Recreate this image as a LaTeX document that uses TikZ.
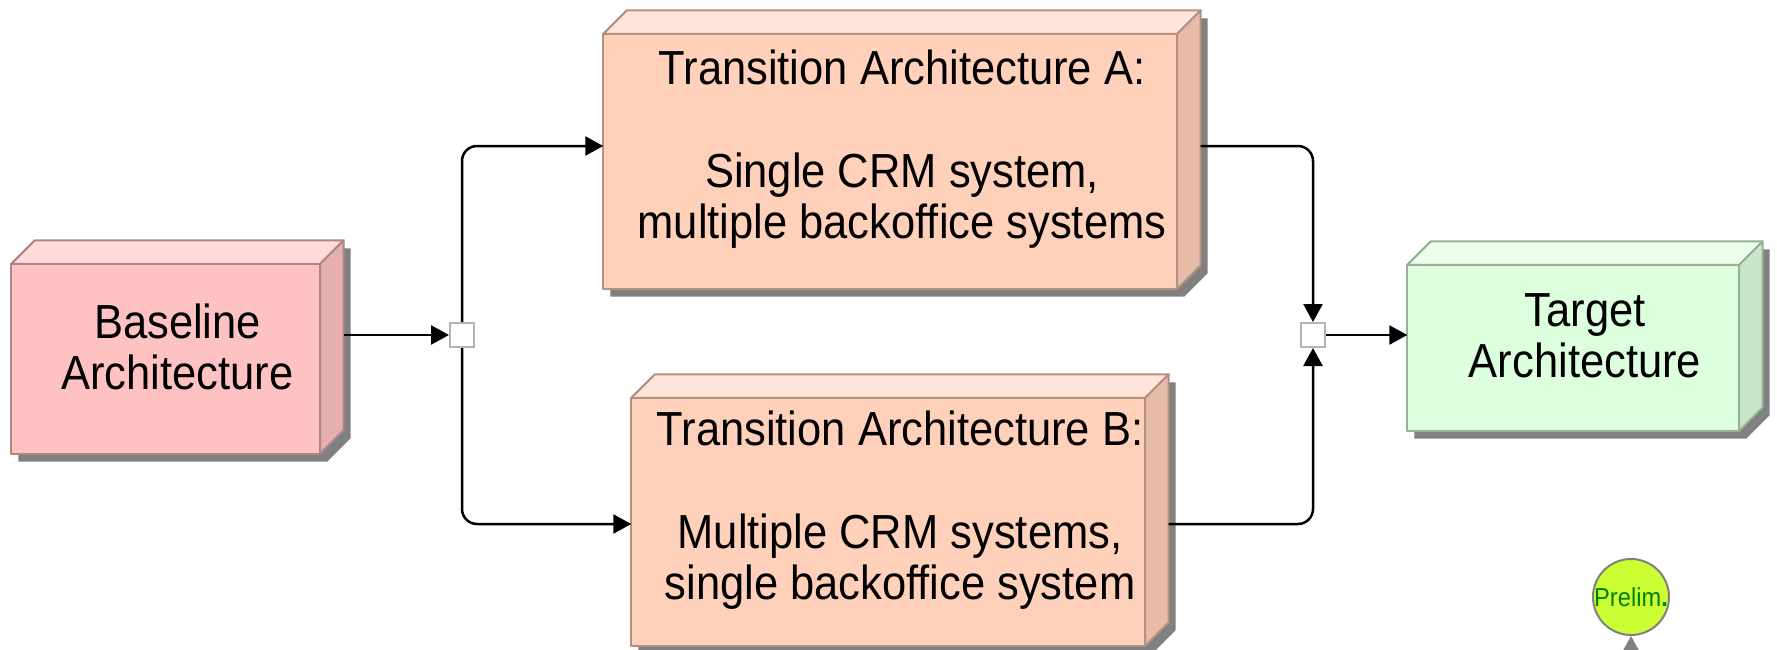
\documentclass[tikz,border=0pt]{standalone}
\usepackage{fontspec}
\setmainfont{Liberation Sans}[FakeStretch=0.91]
\usetikzlibrary{arrows.meta,backgrounds}
\definecolor{cBase}{HTML}{FFC2C2}
\definecolor{cBaseTop}{HTML}{FFDADA}
\definecolor{cBaseSide}{HTML}{E5AFAF}
\definecolor{cBaseLine}{HTML}{B08484}
\definecolor{cTrans}{HTML}{FFD1BA}
\definecolor{cTransTop}{HTML}{FFE4DA}
\definecolor{cTransSide}{HTML}{E6BBA8}
\definecolor{cTransLine}{HTML}{B39080}
\definecolor{cTarget}{HTML}{DEFFDE}
\definecolor{cTargetTop}{HTML}{EBFFEB}
\definecolor{cTargetSide}{HTML}{C8E6C8}
\definecolor{cTargetLine}{HTML}{98B098}
\definecolor{cShadow}{HTML}{808080}
\definecolor{cJoin}{HTML}{B4B4B4}
\definecolor{cPrelimFill}{HTML}{CCFF33}
\definecolor{cPrelimText}{HTML}{008000}
\definecolor{cPrelimLine}{HTML}{808080}
\newcommand{\cubeDepth}{0.235}
% front face, top face, side face and drop shadow behind a node
\newcommand{\cuboid}[2]{%
  \begin{scope}[on background layer]
    \coordinate (#1-fnw) at ([shift={(0,-\cubeDepth)}]#1.north west);
    \coordinate (#1-bnw) at ([shift={(\cubeDepth,0)}]#1.north west);
    \coordinate (#1-fne) at ([shift={(-\cubeDepth,-\cubeDepth)}]#1.north east);
    \coordinate (#1-bse) at ([shift={(0,\cubeDepth)}]#1.south east);
    \coordinate (#1-fse) at ([shift={(-\cubeDepth,0)}]#1.south east);
    \fill[cShadow, transform canvas={shift={(0.07,-0.08)}}]
      (#1.south west) -- (#1-fnw) -- (#1-bnw) -- (#1.north east)
      -- (#1-bse) -- (#1-fse) -- cycle;
    \filldraw[face, fill=#2Top, draw=#2Line]
      (#1-fnw) -- (#1-bnw) -- (#1.north east) -- (#1-fne) -- cycle;
    \filldraw[face, fill=#2Side, draw=#2Line]
      (#1-fne) -- (#1.north east) -- (#1-bse) -- (#1-fse) -- cycle;
    \filldraw[face, fill=#2, draw=#2Line] (#1.south west) rectangle (#1-fne);
  \end{scope}}
\tikzset{
  arch/.style={inner sep=0pt, align=center,
               font=\fontsize{13.6}{14.6}\selectfont},
  face/.style={line width=0.2mm, line join=round},
  junction/.style={draw=cJoin, fill=white, line width=0.2mm,
                   minimum size=2.4mm, inner sep=0pt},
  flow/.style={-{Triangle[length=1.8mm,width=1.9mm]}, line width=0.25mm,
               draw=black, rounded corners=1.5mm},
  badge/.style={circle, draw=cPrelimLine, fill=cPrelimFill, line width=0.2mm,
                minimum size=7.4mm, inner sep=0pt, text=cPrelimText,
                font=\fontsize{7.4}{8}\selectfont},
}
\begin{document}
\begin{tikzpicture}
\useasboundingbox (0,0) rectangle (17.77,-6.49);

% ========== ARCHITECTURES ==========
\node[arch, minimum width=3.31cm, minimum height=2.12cm] (baseArch)
  at (1.775,-3.47) {Baseline\\Architecture};
\node[arch, minimum width=5.96cm, minimum height=2.77cm] (transA)
  at (9.02,-1.495)
  {Transition Architecture A:\\[14.6pt]Single CRM system,\\multiple backoffice systems};
\node[arch, minimum width=5.36cm, minimum height=2.70cm] (transB)
  at (9.00,-5.10)
  {Transition Architecture B:\\[14.6pt]Multiple CRM systems,\\single backoffice system};
\node[arch, minimum width=3.54cm, minimum height=1.88cm] (target)
  at (15.85,-3.36) {Target\\Architecture};

\cuboid{baseArch}{cBase}
\cuboid{transA}{cTrans}
\cuboid{transB}{cTrans}
\cuboid{target}{cTarget}

% ========== SPLIT / MERGE ==========
\node[junction] (splitJ) at (4.62,-3.35) {};
\node[junction] (mergeJ) at (13.13,-3.35) {};

\draw[flow] (baseArch.east |- splitJ) -- (splitJ.west);
\draw[flow] (splitJ.north) |- ([yshift=0.35mm]transA.west);
\draw[flow] (splitJ.south) |- ([yshift=-1.4mm]transB.west);
\draw[flow] ([yshift=0.35mm]transA.east) -| (mergeJ.north);
\draw[flow] ([yshift=-1.4mm]transB.east) -| (mergeJ.south);
\draw[flow] (mergeJ.east) -- (target.west |- mergeJ);

% phase marker
\node[badge, text depth=-0.6mm] (prelim) at (16.31,-5.97) {Prelim\textbf{.}};
\coordinate (prelimIn) at (16.31,-7.2);
\draw[-{Triangle[length=1.6mm,width=1.7mm]}, draw=cPrelimLine,
      fill=cPrelimLine, line width=0.2mm] (prelimIn) -- (prelim.south);

\end{tikzpicture}
\end{document}
